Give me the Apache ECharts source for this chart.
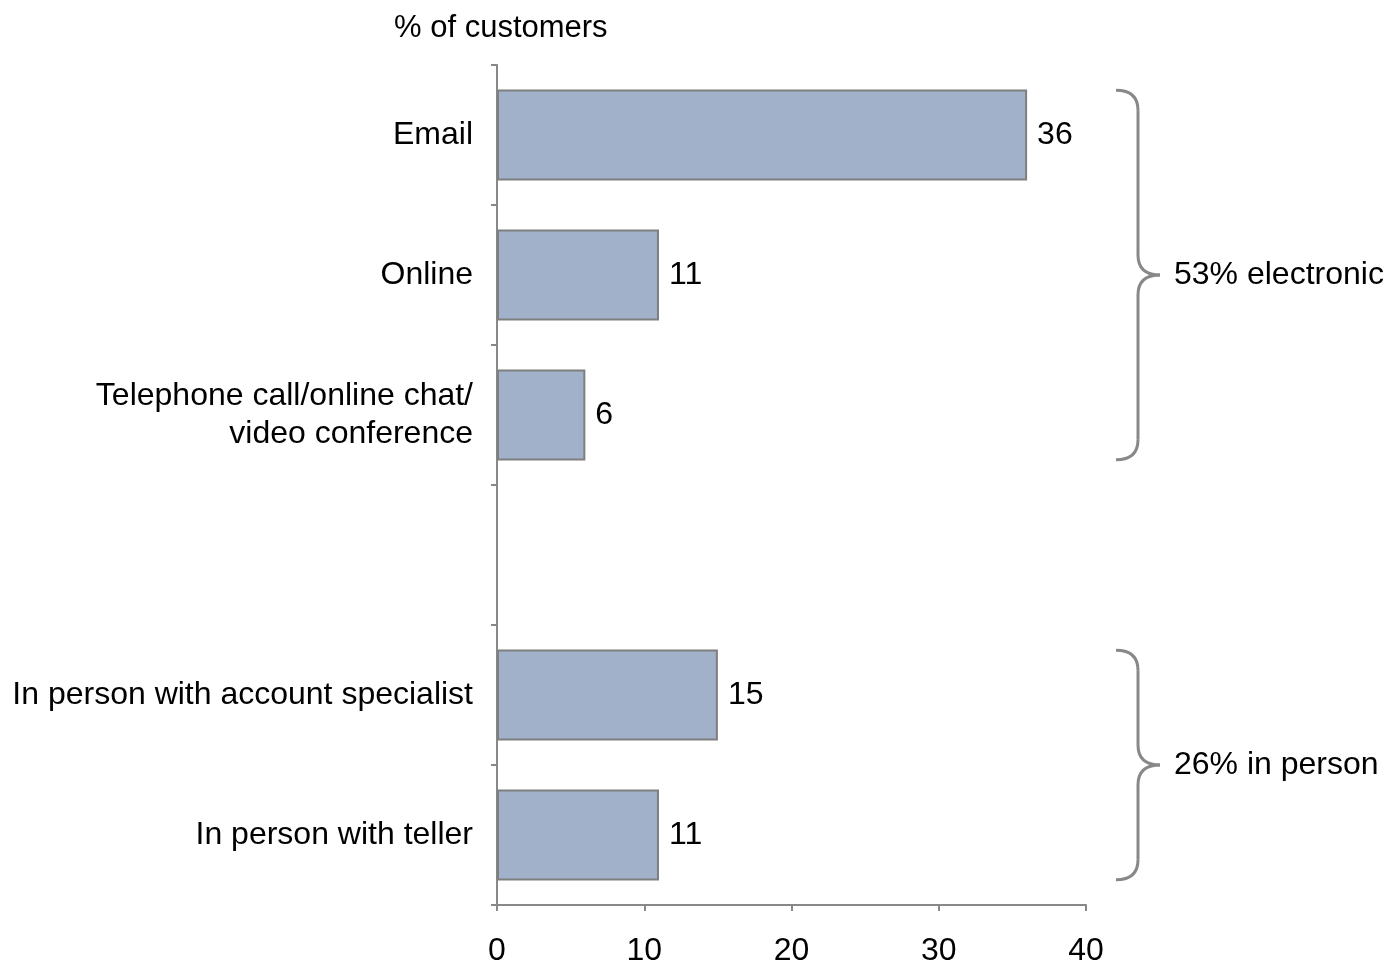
<!DOCTYPE html>
<html>
<head>
<meta charset="utf-8">
<script src="https://cdn.jsdelivr.net/npm/echarts@6/dist/echarts.min.js"></script>
<style>html,body{margin:0;padding:0;background:#fff}#main{width:1393px;height:967px}</style>
</head>
<body>
<div id="main"></div>
<script>
// 类别与数值
var categories = ['Email', 'Online', 'Telephone call/online chat/\nvideo conference', '', 'In person with account specialist', 'In person with teller'];
var values = [36, 11, 6, null, 15, 11];
var xTicks = [0, 10, 20, 30, 40];
// 括号分组：起止类别序号与文字
var groups = [
	{from: 0, to: 2, text: '53% electronic'},
	{from: 4, to: 5, text: '26% in person'}
];

var myChart = echarts.init(document.getElementById('main'));
var font = 'Liberation Sans, Arial, sans-serif';

var option = {
	animation: false,
	grid: {left: 497, right: 307, top: 65, bottom: 59},
	title: {
		text: '% of customers', left: 389, top: 8,
		textStyle: {fontFamily: font, fontSize: 31, fontWeight: 'normal', color: '#000'}
	},
	xAxis: {
		type: 'value', min: xTicks[0], max: xTicks[xTicks.length - 1], interval: 10,
		splitLine: {show: false},
		axisLine: {show: true, lineStyle: {color: '#888', width: 2}},
		axisTick: {show: true, length: 6, lineStyle: {color: '#888', width: 2}},
		axisLabel: {fontFamily: font, fontSize: 32, color: '#000', margin: 30}
	},
	yAxis: {
		type: 'category', inverse: true, data: categories,
		axisLine: {lineStyle: {color: '#888', width: 2}},
		axisTick: {show: true, length: 6, lineStyle: {color: '#888', width: 2}},
		axisLabel: {fontFamily: font, fontSize: 32, color: '#000', margin: 24, align: 'right', lineHeight: 38}
	},
	series: [{
		type: 'bar', data: values, barCategoryGap: '35%',
		itemStyle: {color: '#a0b1c9', borderColor: '#7f7f7f', borderWidth: 2},
		label: {show: true, position: 'right', distance: 10, fontFamily: font, fontSize: 32, color: '#000'}
	}]
};
myChart.setOption(option);

// 画括号（直线 + 二次曲线）
function braceParts(x, y1, y2, w) {
	var m = (y1 + y2) / 2, h = w / 2, r = 20;
	var st = {stroke: '#888', lineWidth: 3, fill: 'none'};
	function curve(ax, ay, cx, cy, bx, by) {
		return {type: 'bezierCurve', shape: {x1: ax, y1: ay, cpx1: cx, cpy1: cy, x2: bx, y2: by}, style: st};
	}
	function line(ax, ay, bx, by) {
		return {type: 'line', shape: {x1: ax, y1: ay, x2: bx, y2: by}, style: st};
	}
	return [
		curve(x, y1, x + h, y1, x + h, y1 + r),
		line(x + h, y1 + r, x + h, m - r),
		curve(x + h, m - r, x + h, m, x + w, m),
		curve(x + w, m, x + h, m, x + h, m + r),
		line(x + h, m + r, x + h, y2 - r),
		curve(x + h, y2 - r, x + h, y2, x, y2)
	];
}
var slot = myChart.convertToPixel({yAxisIndex: 0}, 1) - myChart.convertToPixel({yAxisIndex: 0}, 0);
var bx = myChart.convertToPixel({xAxisIndex: 0}, 40) + 30;
var elements = [];
groups.forEach(function (g) {
	var y1 = myChart.convertToPixel({yAxisIndex: 0}, g.from) - slot * 0.32;
	var y2 = myChart.convertToPixel({yAxisIndex: 0}, g.to) + slot * 0.32;
	elements = elements.concat(braceParts(bx, y1, y2, 44));
	elements.push({type: 'text', x: bx + 58, y: (y1 + y2) / 2,
		style: {text: g.text, fontFamily: font, fontSize: 32, fill: '#000', verticalAlign: 'middle'}});
});
myChart.setOption({graphic: elements});
</script>
</body>
</html>
